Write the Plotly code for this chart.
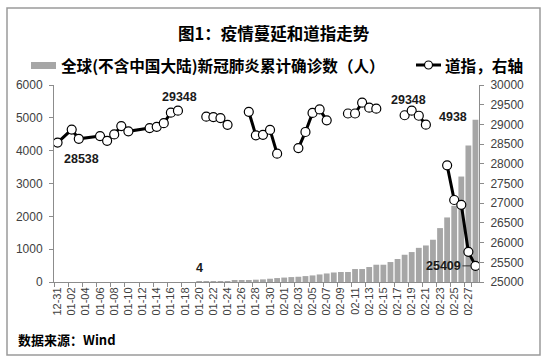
import plotly.graph_objects as go

# ---------------- data ----------------
dates = [
    "12-31",
    "01-01", "01-02", "01-03", "01-04", "01-05", "01-06", "01-07", "01-08", "01-09", "01-10",
    "01-11", "01-12", "01-13", "01-14", "01-15", "01-16", "01-17", "01-18", "01-19", "01-20",
    "01-21", "01-22", "01-23", "01-24", "01-25", "01-26", "01-27", "01-28", "01-29", "01-30",
    "01-31",
    "02-01", "02-02", "02-03", "02-04", "02-05", "02-06", "02-07", "02-08", "02-09", "02-10",
    "02-11", "02-12", "02-13", "02-14", "02-15", "02-16", "02-17", "02-18", "02-19", "02-20",
    "02-21", "02-22", "02-23", "02-24", "02-25", "02-26", "02-27", "02-28",
]

# cumulative confirmed cases outside mainland China (left axis)
cases = [
    None, None, None, None, None, None, None, None, None, None,
    None, None, None, None, None, None, None, None, None, None,
    4, 6, 9, 15, 25, 35, 45, 55, 70, 80,
    100, 120, 135, 150, 160, 180, 200, 230, 260, 290,
    304, 304, 395, 395, 456, 526, 526, 608, 700, 830,
    912, 1040, 1113, 1287, 1642, 1966, 2320, 3212, 4155, 4938,
]

# Dow Jones close (right axis); None = no trading
dow = [
    28538.44, None, 28868.80, 28634.88, None, None, 28703.38, 28583.68, 28745.09, 28956.90,
    28823.77, None, None, 28907.05, 28939.67, 29030.22, 29297.64, 29348.10, None, None,
    None, 29196.04, 29186.27, 29160.09, 28989.73, None, None, 29320.00, 28722.85, 28734.45,
    28859.44, 28256.03, None, None, 28399.81, 28807.63, 29290.85, 29379.77, 29102.51, None,
    None, 29276.82, 29276.34, 29551.42, 29423.31, 29398.08, None, None, None, 29232.19,
    29348.03, 29219.98, 28992.41, None, None, 27960.80, 27081.36, 26957.59, 25766.64, 25409.36,
]

tick_labels = [
    "12-31", "01-02", "01-04", "01-06", "01-08", "01-10", "01-12", "01-14", "01-16", "01-18",
    "01-20", "01-22", "01-24", "01-26", "01-28", "01-30", "02-01", "02-03", "02-05", "02-07",
    "02-09", "02-11", "02-13", "02-15", "02-17", "02-19", "02-21", "02-23", "02-25", "02-27",
]

title_text = "图1：疫情蔓延和道指走势"
legend_bar = "全球(不含中国大陆)新冠肺炎累计确诊数（人）"
legend_line = "道指，右轴"
source_text = "数据来源：Wind"

# ---------------- geometry helpers ----------------
W, H = 548, 361
L, R, T, B = 54, 479, 85, 282   # plot area in pixels


def px(x):
    return (x - L) / (R - L)


def py(y):
    return (B - y) / (B - T)


CJK = "Noto Sans CJK SC"
NUM = "Liberation Sans, Arial"
GRAY_AX = "#8c8c8c"
TXT = "#404040"

fig = go.Figure()

fig.add_trace(go.Bar(
    x=dates, y=cases, marker=dict(color="#a6a6a6", line=dict(width=0)),
    name=legend_bar, yaxis="y",
))

split = 18
line_style = dict(color="black", width=3)
marker_style = dict(symbol="circle", size=9, color="white", line=dict(color="black", width=1.2))
fig.add_trace(go.Scatter(
    x=dates[:split], y=dow[:split], mode="lines+markers", connectgaps=True,
    line=line_style, marker=marker_style, yaxis="y2", name=legend_line,
))
fig.add_trace(go.Scatter(
    x=dates[split:], y=dow[split:], mode="lines+markers", connectgaps=False,
    line=line_style, marker=marker_style, yaxis="y2", name=legend_line,
))

lab_font = dict(family=NUM, size=12.5, color="#1a1a1a")
annotations = [
    dict(text="<b>" + title_text + "</b>", xref="paper", yref="paper", x=px(274), y=py(33),
         xanchor="center", yanchor="middle", showarrow=False, font=dict(family=CJK, size=16.5, color="black")),
    dict(text="<b>" + legend_bar + "</b>", xref="paper", yref="paper", x=px(59), y=py(65),
         xanchor="left", yanchor="middle", showarrow=False, font=dict(family=CJK, size=15.6, color="black")),
    dict(text="<b>" + legend_line + "</b>", xref="paper", yref="paper", x=px(443), y=py(65),
         xanchor="left", yanchor="middle", showarrow=False, font=dict(family=CJK, size=15.6, color="black")),
    dict(text="<b>" + source_text + "</b>", xref="paper", yref="paper", x=px(16), y=py(339),
         xanchor="left", yanchor="middle", showarrow=False, font=dict(family=CJK, size=13, color="black")),
    # data labels
    dict(text="<b>%d</b>" % round(dow[0]), xref="x", yref="y2", x=dates[3], y=dow[0],
         xshift=3, yshift=-16, showarrow=False, font=lab_font),
    dict(text="<b>%d</b>" % round(dow[17]), xref="x", yref="y2", x=dates[17], y=dow[17],
         xshift=2, yshift=14, showarrow=False, font=lab_font),
    dict(text="<b>%d</b>" % round(dow[50]), xref="x", yref="y2", x=dates[50], y=dow[50],
         xshift=-3, yshift=11, showarrow=False, font=lab_font),
    dict(text="<b>%d</b>" % cases[20], xref="x", yref="y", x=dates[20], y=cases[20],
         yshift=14, showarrow=False, font=lab_font),
    dict(text="<b>%d</b>" % cases[59], xref="x", yref="y", x=dates[59], y=cases[59],
         xshift=-22, yshift=3, showarrow=False, font=lab_font),
    dict(text="<b>%d</b>" % round(dow[59]), xref="x", yref="y2", x=dates[59], y=dow[59],
         showarrow=True, ax=-32, ay=0, arrowhead=0, arrowwidth=1, arrowcolor="#333",
         standoff=5, font=lab_font),
]

shapes = [
    # outer frame
    dict(type="rect", xref="paper", yref="paper", x0=px(7), x1=px(540), y0=py(355), y1=py(8),
         line=dict(color="#9a9a9a", width=1.5), fillcolor="rgba(0,0,0,0)", layer="above"),
    # legend: bar swatch
    dict(type="rect", xref="paper", yref="paper", x0=px(31), x1=px(56), y0=py(69), y1=py(62),
         line=dict(width=0), fillcolor="#a6a6a6"),
    # legend: line swatch
    dict(type="line", xref="paper", yref="paper", x0=px(416), x1=px(441), y0=py(65), y1=py(65),
         line=dict(color="black", width=3)),
    dict(type="circle", xref="paper", yref="paper", x0=px(424.5), x1=px(432.5), y0=py(69), y1=py(61),
         line=dict(color="black", width=1.2), fillcolor="white"),
]

fig.update_layout(
    width=W, height=H,
    margin=dict(l=L, r=W - R, t=T, b=H - B, pad=0),
    paper_bgcolor="white", plot_bgcolor="white",
    showlegend=False,
    bargap=0.18,
    annotations=annotations,
    shapes=shapes,
    xaxis=dict(
        type="category", categoryorder="array", categoryarray=dates,
        range=[-0.5, len(dates) - 0.5], autorange=False,
        tickmode="array", tickvals=tick_labels, ticktext=tick_labels,
        tickangle=-90, tickfont=dict(family=NUM, size=11, color=TXT),
        showline=True, linecolor=GRAY_AX, linewidth=1,
        ticks="outside", ticklen=4, tickcolor=GRAY_AX, tickson="boundaries",
        showgrid=False, zeroline=False,
    ),
    yaxis=dict(
        range=[0, 6000], tickmode="linear", tick0=0, dtick=1000, tickformat="d",
        tickfont=dict(family=NUM, size=12, color=TXT),
        showline=True, linecolor=GRAY_AX, linewidth=1,
        ticks="outside", ticklen=4, tickcolor=GRAY_AX,
        showgrid=False, zeroline=False, ticklabelstandoff=4,
    ),
    yaxis2=dict(
        range=[25000, 30000], tickmode="linear", tick0=25000, dtick=500, tickformat="d",
        overlaying="y", side="right",
        tickfont=dict(family=NUM, size=12, color=TXT),
        showline=True, linecolor=GRAY_AX, linewidth=1,
        ticks="outside", ticklen=4, tickcolor=GRAY_AX,
        showgrid=False, zeroline=False, ticklabelstandoff=4,
    ),
)

fig.write_html(
    "out.html",
    config={"displayModeBar": False},
    post_script="document.body.style.margin='0px';document.body.style.padding='0px';",
)
